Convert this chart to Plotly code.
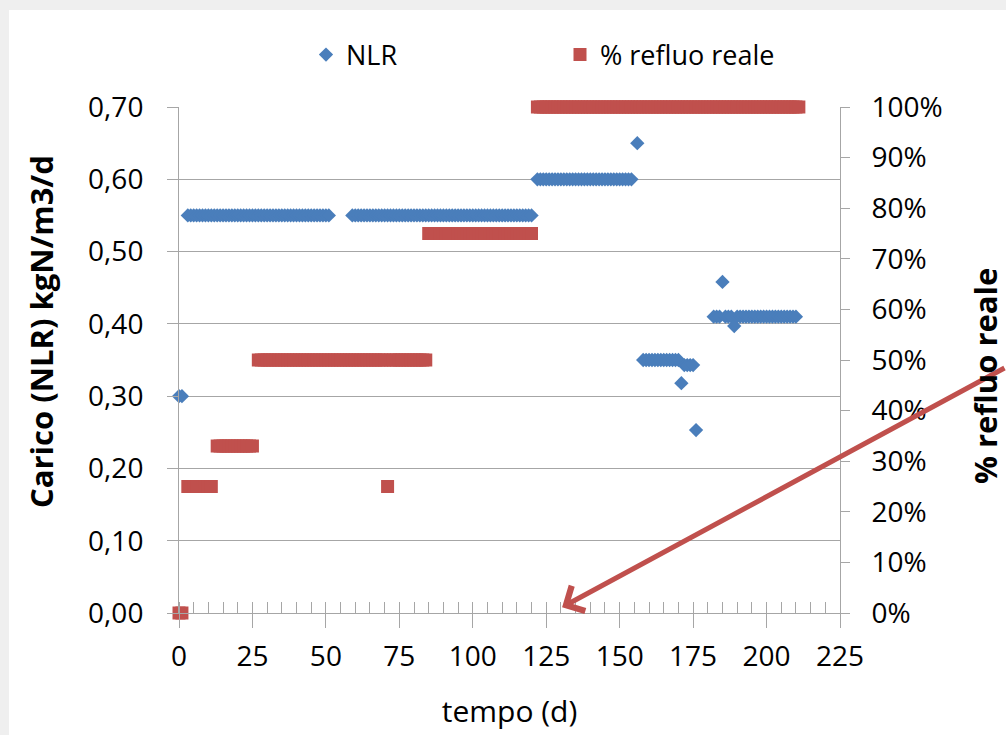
import plotly.graph_objects as go

# ---------------- data ----------------
nlr_day = [0, 1,
           3, 4, 5, 6, 7, 8, 9, 10, 11, 12, 13, 14, 15, 16, 17, 18, 19, 20, 21, 22, 23, 24, 25, 26, 27,
           28, 29, 30, 31, 32, 33, 34, 35, 36, 37, 38, 39, 40, 41, 42, 43, 44, 45, 46, 47, 48, 49, 50, 51,
           59, 60, 61, 62, 63, 64, 65, 66, 67, 68, 69, 70, 71, 72, 73, 74, 75, 76, 77, 78, 79, 80, 81,
           82, 83, 84, 85, 86, 87, 88, 89, 90, 91, 92, 93, 94, 95, 96, 97, 98, 99, 100, 101, 102, 103,
           104, 105, 106, 107, 108, 109, 110, 111, 112, 113, 114, 115, 116, 117, 118, 119, 120,
           122, 123, 124, 125, 126, 127, 128, 129, 130, 131, 132, 133, 134, 135, 136, 137, 138, 139,
           140, 141, 142, 143, 144, 145, 146, 147, 148, 149, 150, 151, 152, 153, 154,
           156,
           158, 159, 160, 161, 162, 163, 164, 165, 166, 167, 168, 169, 170,
           171,
           172, 173, 174, 175,
           176,
           182, 183, 184, 185, 186, 187, 188, 189, 190, 191, 192, 193, 194, 195, 196, 197, 198, 199,
           200, 201, 202, 203, 204, 205, 206, 207, 208, 209, 210]
nlr_val = [0.30, 0.30,
           0.55, 0.55, 0.55, 0.55, 0.55, 0.55, 0.55, 0.55, 0.55, 0.55, 0.55, 0.55, 0.55, 0.55, 0.55, 0.55, 0.55, 0.55, 0.55, 0.55, 0.55, 0.55, 0.55, 0.55, 0.55,
           0.55, 0.55, 0.55, 0.55, 0.55, 0.55, 0.55, 0.55, 0.55, 0.55, 0.55, 0.55, 0.55, 0.55, 0.55, 0.55, 0.55, 0.55, 0.55, 0.55, 0.55, 0.55, 0.55, 0.55,
           0.55, 0.55, 0.55, 0.55, 0.55, 0.55, 0.55, 0.55, 0.55, 0.55, 0.55, 0.55, 0.55, 0.55, 0.55, 0.55, 0.55, 0.55, 0.55, 0.55, 0.55, 0.55, 0.55,
           0.55, 0.55, 0.55, 0.55, 0.55, 0.55, 0.55, 0.55, 0.55, 0.55, 0.55, 0.55, 0.55, 0.55, 0.55, 0.55, 0.55, 0.55, 0.55, 0.55, 0.55, 0.55,
           0.55, 0.55, 0.55, 0.55, 0.55, 0.55, 0.55, 0.55, 0.55, 0.55, 0.55, 0.55, 0.55, 0.55, 0.55, 0.55, 0.55,
           0.60, 0.60, 0.60, 0.60, 0.60, 0.60, 0.60, 0.60, 0.60, 0.60, 0.60, 0.60, 0.60, 0.60, 0.60, 0.60, 0.60, 0.60,
           0.60, 0.60, 0.60, 0.60, 0.60, 0.60, 0.60, 0.60, 0.60, 0.60, 0.60, 0.60, 0.60, 0.60, 0.60,
           0.65,
           0.35, 0.35, 0.35, 0.35, 0.35, 0.35, 0.35, 0.35, 0.35, 0.35, 0.35, 0.35, 0.35,
           0.318,
           0.343, 0.343, 0.343, 0.343,
           0.253,
           0.41, 0.41, 0.41, 0.458, 0.41, 0.41, 0.41, 0.397, 0.41, 0.41, 0.41, 0.41, 0.41, 0.41, 0.41, 0.41, 0.41, 0.41,
           0.41, 0.41, 0.41, 0.41, 0.41, 0.41, 0.41, 0.41, 0.41, 0.41, 0.41]

refluo_day = [0, 1,
              3, 4, 5, 6, 7, 8, 9, 10, 11,
              13, 14, 15, 16, 17, 18, 19, 20, 21, 22, 23, 24, 25,
              27, 28, 29, 30, 31, 32, 33, 34, 35, 36, 37, 38, 39, 40, 41, 42, 43, 44, 45, 46, 47, 48,
              49, 50, 51, 52, 53, 54, 55, 56, 57, 58, 59, 60, 61, 62, 63, 64, 65, 66, 67, 68, 69, 70,
              71,
              72, 73, 74, 75, 76, 77, 78, 79, 80, 81, 82, 83, 84,
              85, 86, 87, 88, 89, 90, 91, 92, 93, 94, 95, 96, 97, 98, 99, 100, 101, 102, 103, 104, 105,
              106, 107, 108, 109, 110, 111, 112, 113, 114, 115, 116, 117, 118, 119, 120,
              122, 123, 124, 125, 126, 127, 128, 129, 130, 131, 132, 133, 134, 135, 136, 137, 138, 139,
              140, 141, 142, 143, 144, 145, 146, 147, 148, 149, 150, 151, 152, 153, 154, 155, 156, 157,
              158, 159, 160, 161, 162, 163, 164, 165, 166, 167, 168, 169, 170, 171, 172, 173, 174, 175,
              176, 177, 178, 179, 180, 181, 182, 183, 184, 185, 186, 187, 188, 189, 190, 191, 192, 193,
              194, 195, 196, 197, 198, 199, 200, 201, 202, 203, 204, 205, 206, 207, 208, 209, 210, 211]
refluo_pct = [0.0, 0.0,
              0.25, 0.25, 0.25, 0.25, 0.25, 0.25, 0.25, 0.25, 0.25,
              0.33, 0.33, 0.33, 0.33, 0.33, 0.33, 0.33, 0.33, 0.33, 0.33, 0.33, 0.33, 0.33,
              0.50, 0.50, 0.50, 0.50, 0.50, 0.50, 0.50, 0.50, 0.50, 0.50, 0.50, 0.50, 0.50, 0.50, 0.50, 0.50, 0.50, 0.50, 0.50, 0.50, 0.50, 0.50,
              0.50, 0.50, 0.50, 0.50, 0.50, 0.50, 0.50, 0.50, 0.50, 0.50, 0.50, 0.50, 0.50, 0.50, 0.50, 0.50, 0.50, 0.50, 0.50, 0.50, 0.50, 0.50,
              0.25,
              0.50, 0.50, 0.50, 0.50, 0.50, 0.50, 0.50, 0.50, 0.50, 0.50, 0.50, 0.50, 0.50,
              0.75, 0.75, 0.75, 0.75, 0.75, 0.75, 0.75, 0.75, 0.75, 0.75, 0.75, 0.75, 0.75, 0.75, 0.75, 0.75, 0.75, 0.75, 0.75, 0.75, 0.75,
              0.75, 0.75, 0.75, 0.75, 0.75, 0.75, 0.75, 0.75, 0.75, 0.75, 0.75, 0.75, 0.75, 0.75, 0.75,
              1.0, 1.0, 1.0, 1.0, 1.0, 1.0, 1.0, 1.0, 1.0, 1.0, 1.0, 1.0, 1.0, 1.0, 1.0, 1.0, 1.0, 1.0,
              1.0, 1.0, 1.0, 1.0, 1.0, 1.0, 1.0, 1.0, 1.0, 1.0, 1.0, 1.0, 1.0, 1.0, 1.0, 1.0, 1.0, 1.0,
              1.0, 1.0, 1.0, 1.0, 1.0, 1.0, 1.0, 1.0, 1.0, 1.0, 1.0, 1.0, 1.0, 1.0, 1.0, 1.0, 1.0, 1.0,
              1.0, 1.0, 1.0, 1.0, 1.0, 1.0, 1.0, 1.0, 1.0, 1.0, 1.0, 1.0, 1.0, 1.0, 1.0, 1.0, 1.0, 1.0,
              1.0, 1.0, 1.0, 1.0, 1.0, 1.0, 1.0, 1.0, 1.0, 1.0, 1.0, 1.0, 1.0, 1.0, 1.0, 1.0, 1.0, 1.0]

x_tick_vals = [0, 25, 50, 75, 100, 125, 150, 175, 200, 225]
y_left_ticks = [0.0, 0.1, 0.2, 0.3, 0.4, 0.5, 0.6, 0.7]
y_right_ticks = [0.0, 0.1, 0.2, 0.3, 0.4, 0.5, 0.6, 0.7, 0.8, 0.9, 1.0]

# ---------------- style ----------------
FONT = "Open Sans"
GRID = "#a6a6a6"
BLUE = "#4a7ebb"
RED = "#c0504d"
FRAME = "#efefef"
W, H = 1006, 735
L, R, T = 179, 166, 107
B = H - 613
PW, PH = W - L - R, H - T - B


def px_x(px):
    return (px - L) / PW


def px_y(py):
    return (T + PH - py) / PH


fig = go.Figure()
fig.add_trace(go.Scatter(
    x=refluo_day, y=refluo_pct, name="% refluo reale", mode="markers",
    marker=dict(symbol="square", size=13, color=RED, line=dict(width=0)),
    yaxis="y2", cliponaxis=False))
fig.add_trace(go.Scatter(
    x=nlr_day, y=nlr_val, name="NLR", mode="markers",
    marker=dict(symbol="diamond", size=11, color=BLUE, line=dict(width=0)),
    cliponaxis=False))

# light grey frame along the top and left edges
fig.add_shape(type="rect", xref="paper", yref="paper", layer="below",
              x0=px_x(-5), x1=px_x(W + 5), y0=px_y(10), y1=px_y(-5),
              fillcolor=FRAME, line=dict(width=0))
fig.add_shape(type="rect", xref="paper", yref="paper", layer="below",
              x0=px_x(-5), x1=px_x(9), y0=px_y(H + 5), y1=px_y(10),
              fillcolor=FRAME, line=dict(width=0))

fig.add_annotation(x=130.4, y=0.008, xref="x", yref="y", text="",
                   showarrow=True, ax=450, ay=-240, axref="pixel", ayref="pixel",
                   arrowhead=4, arrowsize=1.1, arrowwidth=5, arrowcolor=RED)

# axis titles placed as in the original
fig.add_annotation(x=px_x(41), y=px_y(332), xref="paper", yref="paper",
                   text="<b>Carico (NLR) kgN/m3/d</b>", textangle=-90, showarrow=False,
                   xanchor="center", yanchor="middle",
                   font=dict(family=FONT, size=31, color="#000000"))
fig.add_annotation(x=px_x(985), y=px_y(376), xref="paper", yref="paper",
                   text="<b>% refluo reale</b>", textangle=-90, showarrow=False,
                   xanchor="center", yanchor="middle",
                   font=dict(family=FONT, size=31, color="#000000"))

tickfont = dict(family=FONT, size=28, color="#000000")
titlefont = dict(family=FONT, size=30, color="#000000")

fig.update_layout(
    width=W, height=H,
    margin=dict(l=L, r=R, t=T, b=B, autoexpand=False),
    paper_bgcolor="white", plot_bgcolor="rgba(0,0,0,0)",
    separators=",.",
    showlegend=True,
    legend=dict(orientation="h", x=px_x(306), y=px_y(55),
                xanchor="left", yanchor="middle",
                font=dict(family=FONT, size=27, color="#000000"),
                traceorder="reversed", entrywidth=209,
                bgcolor="rgba(0,0,0,0)"),
    xaxis=dict(range=[0, 225], tickvals=x_tick_vals, ticks="outside", ticklen=14,
               tickcolor=GRID, tickwidth=1, showline=True, linecolor=GRID, linewidth=1,
               showgrid=False, zeroline=False, tickfont=tickfont, ticklabelstandoff=4,
               minor=dict(dtick=5, ticks="inside", ticklen=11, tickcolor=GRID, showgrid=False),
               title=dict(text="tempo (d)", font=titlefont, standoff=28)),
    xaxis2=dict(range=[0, 225], overlaying="x", anchor="y", side="bottom",
                tickvals=x_tick_vals, ticks="inside", ticklen=11, tickcolor=GRID,
                showticklabels=False, showgrid=False, zeroline=False, showline=False),
    yaxis=dict(range=[0, 0.70], tickvals=y_left_ticks, tickformat=".2f",
               ticks="outside", ticklen=11, tickcolor=GRID, showline=True, linecolor=GRID,
               showgrid=True, gridcolor=GRID, gridwidth=1, zeroline=False,
               tickfont=tickfont, ticklabelstandoff=18),
    yaxis2=dict(range=[0, 1.0], tickvals=y_right_ticks, tickformat=".0%",
                overlaying="y", side="right", ticks="outside", ticklen=9, tickcolor=GRID,
                showline=True, linecolor=GRID, showgrid=False, zeroline=False,
                tickfont=tickfont, ticklabelstandoff=16),
)

fig.write_html(
    "out.html",
    post_script=(
        "var de=document.documentElement, bd=document.body;"
        "de.style.overflow='hidden'; bd.style.overflow='hidden';"
        "de.style.scrollbarWidth='none'; bd.style.scrollbarWidth='none';"
        "de.style.background='white'; bd.style.background='white';"
        "bd.style.margin='0'; bd.style.padding='0';"
    ),
)
